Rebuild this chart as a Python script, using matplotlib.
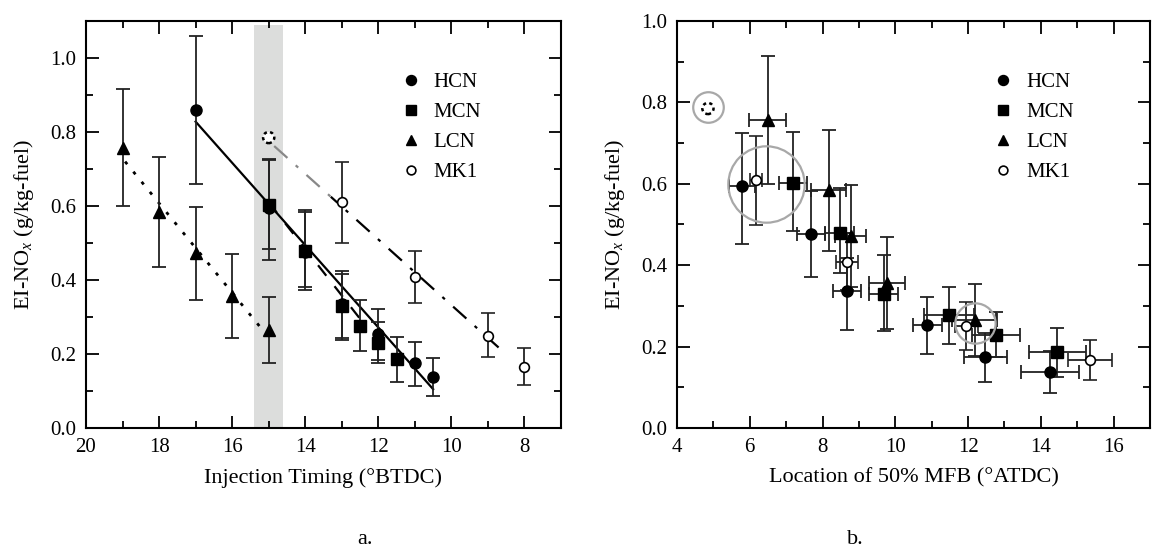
import numpy as np
import matplotlib
matplotlib.use('Agg')
import matplotlib.pyplot as plt
from matplotlib.ticker import MultipleLocator
from matplotlib.lines import Line2D

plt.rcParams['font.family'] = ['Liberation Serif', 'DejaVu Serif']
plt.rcParams['mathtext.fontset'] = 'custom'
plt.rcParams['mathtext.rm'] = 'Liberation Serif'
plt.rcParams['mathtext.it'] = 'Liberation Serif:italic'

# ---------------- data ----------------
series_names = ['HCN', 'MCN', 'LCN', 'MK1']

hcn_inj = [17, 15, 14, 13, 12, 11, 10.5]
hcn_no = [0.86, 0.595, 0.476, 0.336, 0.254, 0.175, 0.137]
hcn_lo = [0.66, 0.453, 0.372, 0.242, 0.183, 0.114, 0.087]
hcn_hi = [1.06, 0.724, 0.583, 0.417, 0.322, 0.233, 0.19]
hcn_mfb = [np.nan, 5.79, 7.68, 8.68, 10.88, 12.47, 14.25]
hcn_mfb_err = [np.nan, 0.35, 0.38, 0.39, 0.40, 0.59, 0.80]

mcn_inj = [15, 14, 13, 12.5, 12, 11.5]
mcn_no = [0.603, 0.479, 0.330, 0.277, 0.229, 0.186]
mcn_lo = [0.485, 0.38, 0.239, 0.207, 0.175, 0.125]
mcn_hi = [0.728, 0.59, 0.424, 0.347, 0.286, 0.245]
mcn_mfb = [7.18, 8.47, 9.68, 11.47, 12.77, 14.45]
mcn_mfb_err = [0.38, 0.40, 0.40, 0.68, 0.65, 0.78]

lcn_inj = [19, 18, 17, 16, 15]
lcn_no = [0.756, 0.584, 0.472, 0.356, 0.266]
lcn_lo = [0.6, 0.436, 0.347, 0.244, 0.176]
lcn_hi = [0.915, 0.733, 0.598, 0.469, 0.355]
lcn_mfb = [6.49, 8.17, 8.77, 9.77, 12.18]
lcn_mfb_err = [0.5, 0.48, 0.43, 0.5, 0.62]

mk1_inj = [13, 11, 9, 8]
mk1_no = [0.61, 0.408, 0.25, 0.166]
mk1_lo = [0.5, 0.339, 0.191, 0.117]
mk1_hi = [0.718, 0.478, 0.31, 0.216]
mk1_mfb = [6.17, 8.67, 11.95, 15.36]
mk1_mfb_err = [0.17, 0.31, 0.32, 0.6]

# MK1 outlier (dashed marker)
mk1_out_inj = [15]
mk1_out_mfb = [4.85]
mk1_out_no = [0.785]

# linear fit lines (panel a)
hcn_fit_x = [17, 10.5]
hcn_fit_y = [0.828, 0.105]
mcn_fit_x = [15, 12.3]
mcn_fit_y = [0.61, 0.27]
lcn_fit_x = [18.93, 15.25]
lcn_fit_y = [0.72, 0.275]
mk1_fit_gray_x = [14.85, 13.3]
mk1_fit_gray_y = [0.762, 0.625]
mk1_fit_x = [13.3, 8.6]
mk1_fit_y = [0.625, 0.208]

# shaded band (panel a)
band_x = [15.4, 14.6]
band_y = [0.0, 1.09]

# highlight circles (panel b): centre x, centre y, diameter (pt)
hl_x = [4.85, 6.45, 12.18]
hl_y = [0.788, 0.60, 0.258]
hl_d = [22, 55, 29]

# ---------------- figure ----------------
fig = plt.figure(figsize=(11.52, 5.59), dpi=100)
axa = fig.add_axes([86 / 1152, 1 - 428 / 559, 475 / 1152, 407 / 559])
axb = fig.add_axes([677 / 1152, 1 - 428 / 559, 473 / 1152, 407 / 559])

ecol = '#222222'
styles = {
    'HCN': dict(marker='o', ms=8, mfc='black', mec='black'),
    'MCN': dict(marker='s', ms=8, mfc='black', mec='black'),
    'LCN': dict(marker='^', ms=8.5, mfc='black', mec='black'),
    'MK1': dict(marker='o', ms=7, mfc='white', mec='black', mew=1.2),
}

def yerr(y, lo, hi):
    y = np.asarray(y); lo = np.asarray(lo); hi = np.asarray(hi)
    return [y - lo, hi - y]

data = {
    'HCN': (hcn_inj, hcn_no, hcn_lo, hcn_hi, hcn_mfb, hcn_mfb_err),
    'MCN': (mcn_inj, mcn_no, mcn_lo, mcn_hi, mcn_mfb, mcn_mfb_err),
    'LCN': (lcn_inj, lcn_no, lcn_lo, lcn_hi, lcn_mfb, lcn_mfb_err),
    'MK1': (mk1_inj, mk1_no, mk1_lo, mk1_hi, mk1_mfb, mk1_mfb_err),
}

# ---- panel a ----
axa.axvspan(band_x[0], band_x[1], ymin=band_y[0] / 1.1, ymax=band_y[1] / 1.1,
            color='#dcdddc', lw=0, zorder=0)
axa.plot(hcn_fit_x, hcn_fit_y, color='black', lw=1.6, zorder=2)
axa.plot(mcn_fit_x, mcn_fit_y, color='black', lw=1.6, ls=(0, (6, 6)), zorder=2)
axa.plot(lcn_fit_x, lcn_fit_y, color='black', lw=2, ls=(0, (1.2, 3.5)), zorder=2)
axa.plot(mk1_fit_gray_x, mk1_fit_gray_y, color='#888888', lw=1.6,
         ls=(0, (8, 5, 1.5, 5)), zorder=2)
axa.plot(mk1_fit_x, mk1_fit_y, color='black', lw=1.6,
         ls=(4, (8, 5, 1.5, 5)), zorder=2)

for name in series_names:
    x, y, lo, hi, mfb, mfb_err = data[name]
    axa.errorbar(x, y, yerr=yerr(y, lo, hi), ls='none', ecolor=ecol,
                 elinewidth=1.3, capsize=5, capthick=1.3, zorder=3,
                 **styles[name])
axa.scatter(mk1_out_inj, mk1_out_no, s=65, facecolors='white', edgecolors='black',
            linewidths=1.8, linestyles=(0, (1.3, 1.3)), zorder=4)

# ---- panel b ----
for name in series_names:
    x, y, lo, hi, mfb, mfb_err = data[name]
    axb.errorbar(mfb, y, yerr=yerr(y, lo, hi), xerr=mfb_err, ls='none',
                 ecolor=ecol, elinewidth=1.3, capsize=5, capthick=1.3, zorder=3,
                 **styles[name])
axb.scatter(mk1_out_mfb, mk1_out_no, s=65, facecolors='white', edgecolors='black',
            linewidths=1.8, linestyles=(0, (1.3, 1.3)), zorder=4)
for cx, cy, d in zip(hl_x, hl_y, hl_d):
    axb.plot([cx], [cy], marker='o', ms=d, mfc='none', mec='#a8a8a8', mew=1.6,
             ls='none', zorder=5)

# ---- axes formatting ----
ylab = 'EI-NO$_{x}$ (g/kg-fuel)'
axa.set_xlim(20, 7)
axa.set_ylim(0, 1.1)
axa.xaxis.set_major_locator(MultipleLocator(2))
axa.xaxis.set_minor_locator(MultipleLocator(1))
axa.yaxis.set_major_locator(MultipleLocator(0.2))
axa.yaxis.set_minor_locator(MultipleLocator(0.1))
axa.set_xlabel('Injection Timing (°BTDC)', fontsize=16, labelpad=8)
axa.set_ylabel(ylab, fontsize=16, labelpad=10)

axb.set_xlim(4, 17)
axb.set_ylim(0, 1.0)
axb.xaxis.set_major_locator(MultipleLocator(2))
axb.xaxis.set_minor_locator(MultipleLocator(1))
axb.yaxis.set_major_locator(MultipleLocator(0.2))
axb.yaxis.set_minor_locator(MultipleLocator(0.1))
axb.set_xlabel('Location of 50% MFB (°ATDC)', fontsize=16, labelpad=8)
axb.set_ylabel(ylab, fontsize=16, labelpad=10)

leg_anchor = {axa: (0.627, 0.92), axb: (0.632, 0.92)}
for ax in (axa, axb):
    ax.yaxis.set_major_formatter(plt.FuncFormatter(lambda v, p: f'{v:.1f}'))
    ax.tick_params(which='both', direction='in', top=True, right=True,
                   labelsize=15, width=1.3, pad=7)
    ax.tick_params(which='major', length=9)
    ax.tick_params(which='minor', length=5)
    for s in ax.spines.values():
        s.set_linewidth(1.5)
    handles = [Line2D([], [], ls='none', **{**styles[n], 'ms': styles[n]['ms'] * 0.9})
               for n in series_names]
    ax.legend(handles, series_names, loc='upper left',
              bbox_to_anchor=leg_anchor[ax], frameon=False,
              fontsize=15, handlelength=0.8, handletextpad=0.7,
              labelspacing=0.5)

fig.text(365 / 1152, 1 - 540 / 559, 'a.', fontsize=16, ha='center', va='center')
fig.text(855 / 1152, 1 - 540 / 559, 'b.', fontsize=16, ha='center', va='center')

fig.savefig('out.png', dpi=100)
